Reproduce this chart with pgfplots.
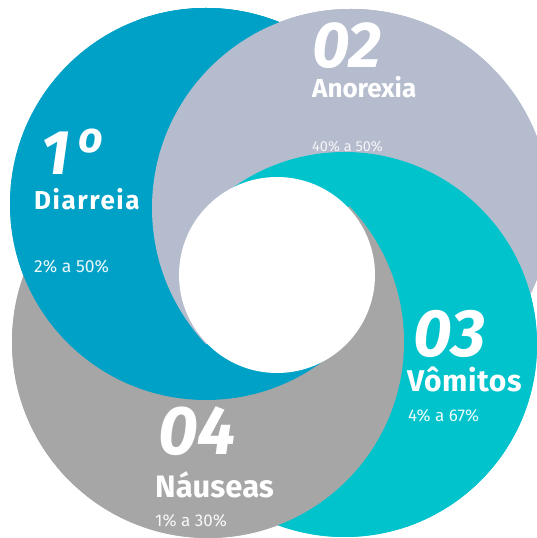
\documentclass[border=0pt]{standalone}
\usepackage{pgfplots}
\pgfplotsset{compat=1.18}
\usepackage{fontspec}
\setmainfont{Fira Sans}
\definecolor{cBlue}{RGB}{0,161,199}
\definecolor{cAno}{RGB}{181,188,205}
\definecolor{cTeal}{RGB}{0,195,204}
\definecolor{cGray}{RGB}{166,166,166}
% circles (axis coordinates, 1 unit = 1pt)
\newcommand{\cA}{\fill[cAno]  (axis cs:351,330) circle[radius=199];}
\newcommand{\cT}{\fill[cTeal] (axis cs:344.5,193.5) circle[radius=192.5];}
\newcommand{\cG}{\fill[cGray] (axis cs:208,196) circle[radius=196];}
\newcommand{\cB}{\fill[cBlue] (axis cs:206,334) circle[radius=196];}
% sector wedges around the white centre
\newcommand{\SA}{\clip (axis cs:277,263) -- (axis cs:-430.6,1585.7) -- (axis cs:1353.3,1307.8) -- cycle;}
\newcommand{\SB}{\clip (axis cs:277,263) -- (axis cs:1316.2,1344.7) -- (axis cs:962.6,-1071.1) -- cycle;}
\newcommand{\SC}{\clip (axis cs:277,263) -- (axis cs:1008.8,-1046.3) -- (axis cs:-835.1,-743.7) -- cycle;}
\newcommand{\SD}{\clip (axis cs:277,263) -- (axis cs:-799,-782) -- (axis cs:-384.2,1609.4) -- cycle;}
\begin{document}
\begin{tikzpicture}
\begin{axis}[x=1pt,y=1pt,xmin=0,xmax=537,ymin=0,ymax=538,hide axis,clip=true,clip bounding box=upper bound]
% base layer
\cA \cT \cG \cB
% top: teal on top
\begin{scope} \SA \begin{scope}[transparency group] \cG \cB \cA \cT \end{scope} \end{scope}
% right: gray on top
\begin{scope} \SB \begin{scope}[transparency group] \cB \cA \cT \cG \end{scope} \end{scope}
% bottom: blue on top
\begin{scope} \SC \begin{scope}[transparency group] \cA \cT \cG \cB \end{scope} \end{scope}
% left: anorexia on top
\begin{scope} \SD \begin{scope}[transparency group] \cT \cG \cB \cA \end{scope} \end{scope}
% top again (covers the last seam)
\begin{scope} \SA \begin{scope}[transparency group] \cG \cB \cA \cT \end{scope} \end{scope}
% white centre
\fill[white] (axis cs:277,263) circle[radius=98];
% texts
\tikzset{lab/.style={text=white,inner sep=0pt,anchor=base west}}
\node[lab,font=\fontsize{63}{63}\selectfont\bfseries\itshape] at (axis cs:41,363) {1\kern9pt\raisebox{22pt}{\fontsize{43}{43}\selectfont o}};
\node[lab,font=\fontsize{26}{26}\selectfont\bfseries\addfontfeatures{LetterSpace=6}] at (axis cs:34,328) {Diarreia};
\node[lab,font=\fontsize{17.5}{17.5}\selectfont,text opacity=0.92] at (axis cs:34,265) {2\% a 50\%};
\node[lab,font=\fontsize{65}{65}\selectfont\bfseries\itshape] at (axis cs:312,470) {02};
\node[lab,font=\fontsize{26}{26}\selectfont\bfseries] at (axis cs:312,440) {Anorexia};
\node[lab,font=\fontsize{14.5}{14.5}\selectfont,text opacity=0.85] at (axis cs:312,386) {40\% a 50\%};
\node[lab,font=\fontsize{67}{67}\selectfont\bfseries\itshape] at (axis cs:413,181) {03};
\node[lab,font=\fontsize{30}{30}\selectfont\bfseries\addfontfeatures{LetterSpace=2}] at (axis cs:407,146) {Vômitos};
\node[lab,font=\fontsize{17}{17}\selectfont,text opacity=0.92] at (axis cs:408,116) {4\% a 67\%};
\node[lab,font=\fontsize{69}{69}\selectfont\bfseries\itshape] at (axis cs:158,83) {04};
\node[lab,font=\fontsize{31}{31}\selectfont\bfseries] at (axis cs:155,40) {Náuseas};
\node[lab,font=\fontsize{17}{17}\selectfont,text opacity=0.92] at (axis cs:155,11) {1\% a 30\%};
\end{axis}
\end{tikzpicture}
\end{document}
